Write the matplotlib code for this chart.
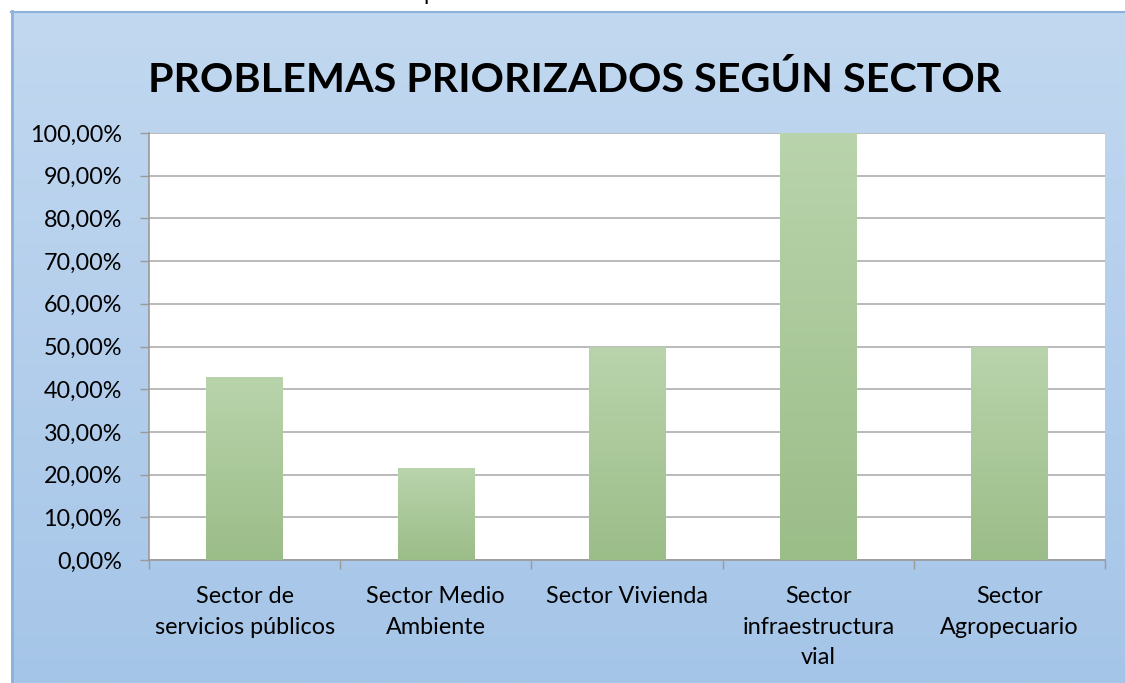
import numpy as np
import matplotlib
matplotlib.use("Agg")
import matplotlib.pyplot as plt
from matplotlib.colors import LinearSegmentedColormap

# ---- data ----
categories = ["Sector de\nservicios públicos", "Sector Medio\nAmbiente", "Sector Vivienda",
              "Sector\ninfraestructura\nvial", "Sector\nAgropecuario"]
values = [42.86, 21.43, 50.0, 100.0, 50.0]
y_ticks = [0, 10, 20, 30, 40, 50, 60, 70, 80, 90, 100]
y_tick_labels = ["0,00%", "10,00%", "20,00%", "30,00%", "40,00%", "50,00%",
                 "60,00%", "70,00%", "80,00%", "90,00%", "100,00%"]
title = "PROBLEMAS PRIORIZADOS SEGÚN SECTOR"

plt.rcParams['font.family'] = ['Lato', 'DejaVu Sans']

W, H = 1125, 683
fig = plt.figure(figsize=(W / 100, H / 100), dpi=100, facecolor="white")

# ---- background frame with vertical gradient ----
bg = fig.add_axes([11 / W, 0, 1 - 11 / W, (H - 11) / H], zorder=0)
bg_cmap = LinearSegmentedColormap.from_list("bg", ["#a5c5e8", "#c2d8f0"])
bg.imshow(np.linspace(0, 1, 256).reshape(-1, 1), cmap=bg_cmap, aspect="auto",
          extent=[0, 1, 0, 1], origin="lower")
bg.set_xlim(0, 1)
bg.set_ylim(0, 1)
bg.axis("off")
bg.plot([0.0008, 0.0008], [0, 1], color="#8cb1dc", lw=2, transform=bg.transAxes, clip_on=False)
bg.plot([0, 1.01], [0.999, 0.999], color="#8cb1dc", lw=1.5, transform=bg.transAxes, clip_on=False)

# cut-off text from above the picture
fig.text(430 / W, 1.0, "p", fontsize=16, color="black", ha="center", va="baseline")

# ---- title ----
fig.text(575 / W, 1 - 80 / H, title, fontsize=29.7, fontweight="bold", color="black",
         ha="center", va="center")

# ---- plot area ----
ax = fig.add_axes([149 / W, (H - 560) / H, 956 / W, 427 / H], zorder=1)
ax.set_facecolor("white")

x = np.arange(len(categories))
bars = ax.bar(x, values, width=0.4, color="none", edgecolor="none", zorder=3)

bar_cmap = LinearSegmentedColormap.from_list("bar", ["#9bbd88", "#b9d4ac"])
grad = np.linspace(0, 1, 256).reshape(-1, 1)
for b in bars:
    bx, bw, bh = b.get_x(), b.get_width(), b.get_height()
    im = ax.imshow(grad, cmap=bar_cmap, aspect="auto", origin="lower",
                   extent=[bx, bx + bw, 0, bh], zorder=3)
    im.set_clip_path(b)

ax.set_xlim(-0.5, len(categories) - 0.5)
ax.set_ylim(0, 100)

ax.set_yticks(y_ticks)
ax.set_yticklabels(y_tick_labels)
ax.yaxis.grid(True, color="#b4b4b4", lw=1.3, zorder=1)
ax.set_axisbelow(True)

ax.set_xticks(np.arange(len(categories) + 1) - 0.5)
ax.set_xticklabels([])
ax.set_xticks(x, minor=True)
ax.set_xticklabels(categories, minor=True, linespacing=1.55)

ax.tick_params(axis="y", direction="out", length=6.5, width=1, color="#9a9a9a",
               labelsize=16.8, pad=13, labelcolor="black")
ax.tick_params(axis="x", which="major", direction="out", length=6.5, width=1, color="#9a9a9a")
ax.tick_params(axis="x", which="minor", length=0, labelsize=16.8, pad=19, labelcolor="black")

for s in ["top", "right"]:
    ax.spines[s].set_visible(False)
for s in ["left", "bottom"]:
    ax.spines[s].set_color("#9a9a9a")
    ax.spines[s].set_linewidth(1.2)

fig.savefig("out.png", dpi=100, facecolor="white")
